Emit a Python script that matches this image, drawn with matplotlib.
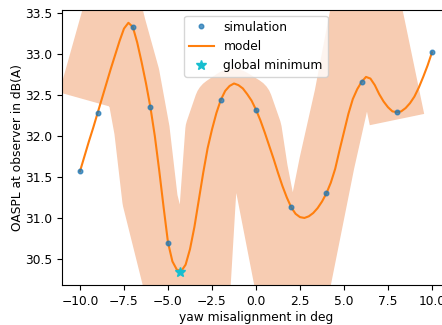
import matplotlib
matplotlib.use("Agg")
import matplotlib.pyplot as plt

# simulation samples
sim_x = [-10, -9, -7, -6, -5, -2, 0, 2, 4, 6, 8, 10]
sim_y = [31.57, 32.28, 33.33, 32.35, 30.70, 32.44, 32.32, 31.13, 31.30, 32.66, 32.29, 33.02]

# model curve
model_x = [-10, -9.75, -9.5, -9.25, -9, -8.75, -8.5, -8.25, -8, -7.75, -7.5, -7.25,
           -7, -6.75, -6.5, -6.25, -6, -5.75, -5.5, -5.25, -5, -4.75, -4.5, -4.25,
           -4, -3.75, -3.5, -3.25, -3, -2.75, -2.5, -2.25, -2, -1.75, -1.5, -1.25,
           -1, -0.75, -0.5, -0.25, 0, 0.25, 0.5, 0.75, 1, 1.25, 1.5, 1.75,
           2, 2.25, 2.5, 2.75, 3, 3.25, 3.5, 3.75, 4, 4.25, 4.5, 4.75,
           5, 5.25, 5.5, 5.75, 6, 6.25, 6.5, 6.75, 7, 7.25, 7.5, 7.75,
           8, 8.25, 8.5, 8.75, 9, 9.25, 9.5, 9.75, 10]
model_y = [31.57, 31.75, 31.93, 32.10, 32.28, 32.46, 32.64, 32.82, 32.99, 33.16, 33.31, 33.38,
           33.33, 33.14, 32.90, 32.64, 32.35, 32.00, 31.58, 31.13, 30.70, 30.47, 30.37, 30.35,
           30.43, 30.62, 30.89, 31.22, 31.55, 31.85, 32.08, 32.28, 32.44, 32.55, 32.61, 32.64,
           32.62, 32.58, 32.51, 32.43, 32.32, 32.19, 32.04, 31.88, 31.72, 31.55, 31.39, 31.25,
           31.13, 31.05, 31.01, 31.00, 31.02, 31.06, 31.12, 31.20, 31.30, 31.43, 31.60, 31.83,
           32.05, 32.27, 32.45, 32.57, 32.66, 32.72, 32.70, 32.62, 32.51, 32.42, 32.35, 32.30,
           32.29, 32.30, 32.34, 32.40, 32.48, 32.59, 32.72, 32.86, 33.02]

# global minimum
min_x = [-4.32]
min_y = [30.34]

# highlighter band centre line
band_x = [-9.66, -8.13, -7.84, -7.05, -6.48, -6.02, -3.18, -3.01, -2.73, -2.44, -1.93,
          -1.31, -0.63, -0.11, 0.23, 1.48, 2.78, 2.67, 4.03, 4.89, 6.25, 8.01]
band_y = [32.44, 33.61, 33.35, 32.74, 32.07, 31.22, 28.78, 30.21, 31.22, 32.07, 32.39,
          32.48, 32.39, 32.07, 31.59, 30.21, 28.78, 30.21, 31.67, 32.49, 34.02, 32.20]

FS = 8.8

fig = plt.figure(figsize=(4.42, 3.25), dpi=100)
ax = fig.add_axes([0.1412, 0.1225, 0.876, 0.8477])

ax.plot(band_x, band_y, color='#f7ccb2', lw=40, solid_capstyle='butt',
        solid_joinstyle='round', zorder=0)
ax.plot(model_x, model_y, color='#ff7f0e', lw=1.5, label='model', zorder=2)
ax.plot(sim_x, sim_y, 'o', color='#1f77b4', ms=3.3, alpha=0.75, label='simulation', zorder=3)
ax.plot(min_x, min_y, '*', color='#17becf', ms=7, label='global minimum', zorder=4)

ax.set_xlim(-11, 11)
ax.set_ylim(30.18, 33.54)
ax.set_xticks([-10, -7.5, -5, -2.5, 0, 2.5, 5, 7.5, 10])
ax.set_yticks([30.5, 31.0, 31.5, 32.0, 32.5, 33.0, 33.5])
ax.set_xlabel('yaw misalignment in deg', fontsize=FS, labelpad=2)
ax.set_ylabel('OASPL at observer in dB(A)', fontsize=FS, labelpad=1)
ax.tick_params(labelsize=FS)

h, l = ax.get_legend_handles_labels()
order = [1, 0, 2]
ax.legend([h[i] for i in order], [l[i] for i in order], loc='upper center', fontsize=FS)

fig.savefig('out.png', dpi=100)
